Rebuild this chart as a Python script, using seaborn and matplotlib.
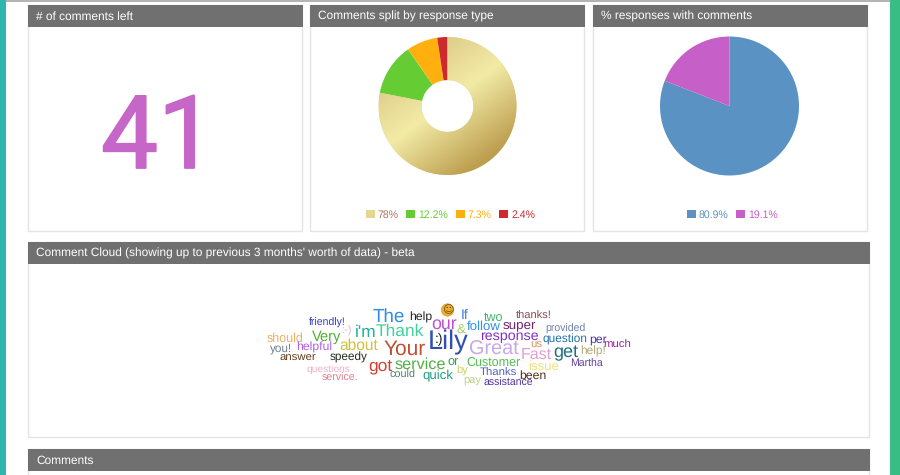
import numpy as np
import matplotlib.pyplot as plt
import matplotlib.patheffects as pe
from matplotlib.patches import Rectangle, Circle
import seaborn as sns

panel_titles = ['# of comments left', 'Comments split by response type', '% responses with comments']
cloud_title = "Comment Cloud (showing up to previous 3 months' worth of data) - beta"
comments_title = 'Comments'
comments_left = '41'

split_values = [78, 12.2, 7.3, 2.4]
split_labels = ['78%', '12.2%', '7.3%', '2.4%']
share_values = [80.9, 19.1]
share_labels = ['80.9%', '19.1%']

cloud_words = ['The', 'help', 'our', 'If', 'two', 'thanks!', 'friendly!', 'Very', ':-)', "i'm",
               'Thank', '&', 'follow', 'super', 'provided', 'response', 'question', 'per', 'much',
               'should', 'you!', 'helpful', 'about', 'Your', 'Lily', ':)', 'Great', 'us', 'Fast',
               'get', 'help!', 'answer', 'speedy', 'got', 'service', 'or', 'Customer', 'issue',
               'Martha', 'questions', 'service.', 'could', 'quick', 'by', 'pay', 'Thanks', 'been',
               'assistance']

# x, y, font size, colour for each word (from the 3x crop)
cloud_layout = [
    (417, 65, 13.5, '#2b8fe8'), (512, 67, 8.8, '#222222'), (582, 88, 12.8, '#c050d0'),
    (645, 60, 10, '#3a7de0'), (732, 68, 9, '#3fb56f'), (850, 62, 8, '#8a4a50'),
    (232, 85, 7.6, '#3040c0'), (229, 125, 10.5, '#50b030'), (293, 108, 8, '#e0b8c8'),
    (346, 112, 12.5, '#20b0a0'), (450, 110, 12.5, '#40d0a0'), (634, 103, 9.5, '#a0d060'),
    (700, 95, 9.5, '#3090e0'), (807, 90, 9.6, '#702070'), (946, 103, 7.6, '#7080b0'),
    (778, 125, 10.3, '#8030c0'), (946, 133, 8.6, '#2070b0'), (1043, 132, 8.8, '#5030a0'),
    (1100, 150, 8.2, '#a020a0'), (106, 130, 9, '#f0b060'), (92, 160, 8.5, '#708090'),
    (193, 156, 8.8, '#b060e0'), (327, 153, 11.2, '#d0c040'), (463, 162, 15, '#c05030'),
    (595, 142, 19.5, '#3050b0'), (567, 132, 10, '#222222'), (732, 165, 14.3, '#c8a8e8'),
    (860, 150, 8.2, '#e09060'), (858, 178, 11.5, '#e0a0d0'), (948, 172, 13, '#207080'),
    (1028, 168, 8.6, '#b0a870'), (145, 188, 8.2, '#604020'), (295, 188, 8.5, '#203020'),
    (390, 215, 12.5, '#d04030'), (510, 208, 11.7, '#50b040'), (610, 200, 9.2, '#30a060'),
    (730, 204, 9, '#50c050'), (882, 215, 9.5, '#f0e080'), (1008, 207, 7.6, '#6040a0'),
    (235, 224, 7.4, '#f0b0c8'), (270, 250, 7.7, '#e08090'), (457, 241, 7.8, '#508070'),
    (565, 243, 9.5, '#20a080'), (635, 228, 8, '#d0d060'), (666, 257, 8, '#c0d080'),
    (746, 235, 8.2, '#5060c0'), (847, 241, 8.8, '#503010'), (776, 264, 7.6, '#5030a0'),
]

sns.set_theme(style='white')
plt.rcParams['font.family'] = ['Liberation Sans', 'DejaVu Sans']
plt.rcParams['text.hinting'] = 'none'

fig = plt.figure(figsize=(9, 4.75), dpi=100, facecolor='white')
W, H = 900, 475
page = fig.add_axes([0, 0, 1, 1])
page.set_xlim(0, W)
page.set_ylim(H, 0)
page.axis('off')

# page edges
page.add_patch(Rectangle((0, 0), 6, H, color='#2fb6ad', lw=0))
page.add_patch(Rectangle((890, 0), 10, H, color='#38be84', lw=0))
page.add_patch(Rectangle((6, 0), 884, 1.8, color='#b4b4b4', lw=0))


def panel(x0, x1, y0, y1, title):
    page.add_patch(Rectangle((x0, y0), x1 - x0, y1 - y0, fc='white', ec='#e4e4e4', lw=1))
    page.add_patch(Rectangle((x0 - 0.5, y0), x1 - x0 + 1, 22, color='#707070', lw=0))
    page.text(x0 + 8, y0 + 11.5, title, color='white', fontsize=8.6, va='center')


panel(28, 302, 5, 231, panel_titles[0])
panel(310, 584, 5, 231, panel_titles[1])
panel(593, 867, 5, 231, panel_titles[2])
panel(28, 869, 242, 437, cloud_title)
panel(28, 869, 449, 490, comments_title)

big = page.text(158, 168, comments_left, color='#c766c9', fontsize=73, ha='center', va='baseline',
                family=['Roboto'])
big.set_path_effects([pe.withStroke(linewidth=1.3, foreground='#c766c9')])


def pie_axes(cx, cy, r):
    ax = fig.add_axes([(cx - r) / W, 1 - (cy + r) / H, 2 * r / W, 2 * r / H])
    ax.set_aspect('equal')
    return ax


# gold gradient, light band running lower left to upper right
gold = sns.blend_palette(['#d8c382', '#f2eba6', '#bd9f50'], n_colors=256, as_cmap=True)
xx, yy = np.meshgrid(np.linspace(0, 1, 300), np.linspace(0, 1, 300))
gold_t = 0.53 + (xx - 0.5) * 0.59 + (yy - 0.5) * 0.81

ax1 = pie_axes(447.5, 106, 69)
split_colors = ['#e6d68f', '#66cc33', '#ffb00f', '#cc2a2e']
wedges1, _ = ax1.pie(split_values, colors=split_colors, startangle=90, counterclock=False,
                     radius=1, wedgeprops={'width': 0.625, 'linewidth': 0})
grad = ax1.imshow(gold_t, cmap=gold, vmin=0, vmax=1, extent=(-1, 1, -1, 1), zorder=3, origin='upper')
grad.set_clip_path(wedges1[0])
ax1.set_xlim(-1, 1)
ax1.set_ylim(-1, 1)
ax1.axis('off')

legend_kw = dict(loc='center', frameon=False, fontsize=7.6, handlelength=0.85, handleheight=0.85,
                 handletextpad=0.3, columnspacing=0.7)
fig.legend(wedges1, split_labels, ncol=4, bbox_to_anchor=(450.5 / W, 1 - 215 / H),
           labelcolor=['#a8785c', '#66cc33', '#ffb00f', '#cc2a2e'], **legend_kw)

ax2 = pie_axes(729.5, 106, 69.5)
share_colors = ['#5b92c4', '#c65fc8']
wedges2, _ = ax2.pie(share_values, colors=share_colors, startangle=90, counterclock=False,
                     radius=1, wedgeprops={'linewidth': 0})
ax2.set_xlim(-1, 1)
ax2.set_ylim(-1, 1)
ax2.axis('off')
fig.legend(wedges2, share_labels, ncol=2, bbox_to_anchor=(732.5 / W, 1 - 215 / H),
           labelcolor=share_colors, **legend_kw)

# word cloud, positions are in crop pixels
for word, (zx, zy, size, color) in zip(cloud_words, cloud_layout):
    page.text(250 + zx / 3, 295 + zy / 3, word, fontsize=size, color=color,
              ha='center', va='center')
page.add_patch(Circle((447.5, 310), 6.2, fc='#eeb030', ec='#d09020', lw=0.4, zorder=3))
page.text(447.5, 310, '\u263a', fontsize=8, color='#6a4a10', ha='center', va='center',
          family=['DejaVu Sans'], zorder=4)

fig.savefig('out.png', dpi=100)
